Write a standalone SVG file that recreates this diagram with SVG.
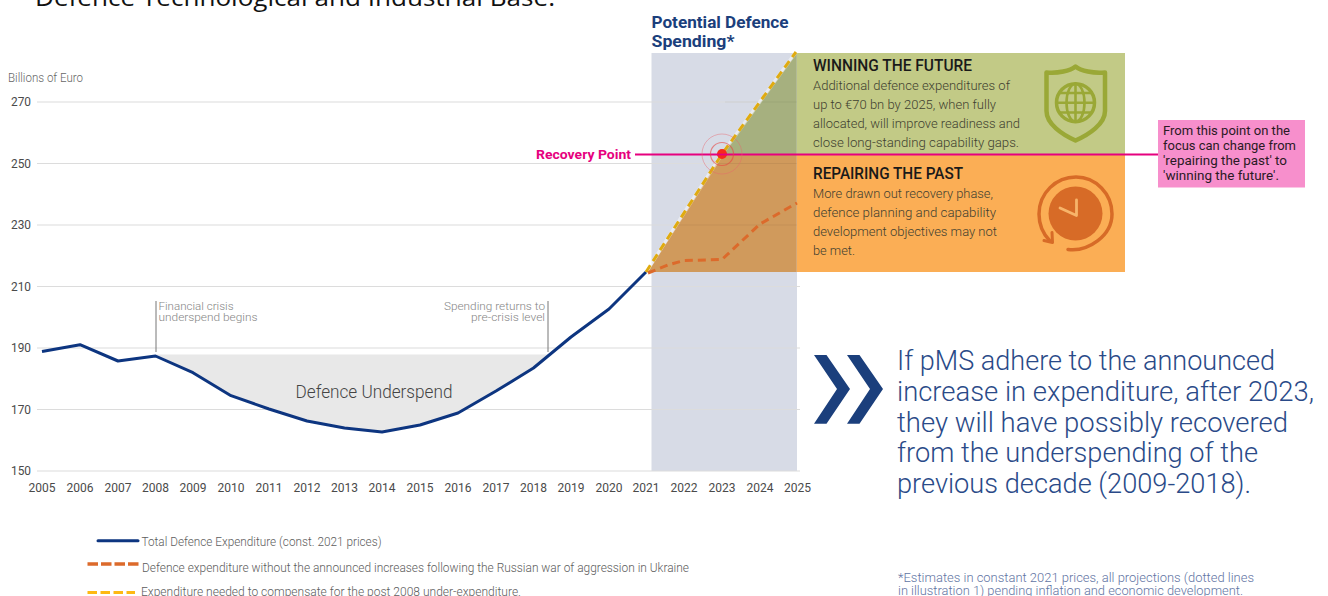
<svg xmlns="http://www.w3.org/2000/svg" width="1328" height="596" viewBox="0 0 1328 596">
<style>
text{font-family:Roboto,"Liberation Sans",sans-serif}
.grid{stroke:#dcdcdc;stroke-width:1.2;fill:none}
.tick{font-size:12px;fill:#4a4a4a}
.yr{font-size:12px;fill:#4a4a4a;text-anchor:middle}
.note{font-size:11px;fill:#858585;font-weight:300}
.leg{font-size:12px;fill:#5c5c5c;font-weight:300}
.h{font-size:16px;font-weight:500;fill:#1a1a1a}
.b{font-size:13px;fill:#3f3f30;font-weight:300}
.big{font-size:27px;fill:#2a4a88;font-weight:300}
.foot{font-size:13px;fill:#5f74a3;font-weight:300}
.pk{font-size:13px;fill:#2a1a24;font-weight:400}
.vl{stroke:#777;stroke-width:1;fill:none}
</style>
<rect width="1328" height="596" fill="#fff"/>
<text x="35" y="6" font-size="24" fill="#111" style="font-family:'Open Sans',sans-serif" textLength="520" lengthAdjust="spacingAndGlyphs">Defence Technological and Industrial Base.</text>

<g id="band"><rect x="651.500" y="53" width="145.500" height="418" fill="#d7dbe6"/></g>
<g id="grid">
<path class="grid" d="M37 102H800M37 163.500H800M37 225H800M37 286.500H800M37 348H800M37 409.500H800M37 471H800"/>
</g>
<g id="y-axis">
<text x="8" y="82" class="note" style="fill:#666;font-size:12px" textLength="75" lengthAdjust="spacingAndGlyphs">Billions of Euro</text>
<text x="11" y="106" class="tick" textLength="20" lengthAdjust="spacingAndGlyphs">270</text>
<text x="11" y="168" class="tick" textLength="20" lengthAdjust="spacingAndGlyphs">250</text>
<text x="11" y="229" class="tick" textLength="20" lengthAdjust="spacingAndGlyphs">230</text>
<text x="11" y="291" class="tick" textLength="20" lengthAdjust="spacingAndGlyphs">210</text>
<text x="11" y="352" class="tick" textLength="20" lengthAdjust="spacingAndGlyphs">190</text>
<text x="11" y="414" class="tick" textLength="20" lengthAdjust="spacingAndGlyphs">170</text>
<text x="11" y="475" class="tick" textLength="20" lengthAdjust="spacingAndGlyphs">150</text>
</g>
<g id="x-axis">
<text x="42" y="491.500" class="yr">2005</text><text x="80" y="491.500" class="yr">2006</text><text x="118" y="491.500" class="yr">2007</text><text x="155.500" y="491.500" class="yr">2008</text><text x="193" y="491.500" class="yr">2009</text><text x="231" y="491.500" class="yr">2010</text><text x="269" y="491.500" class="yr">2011</text><text x="307" y="491.500" class="yr">2012</text><text x="344.500" y="491.500" class="yr">2013</text><text x="382" y="491.500" class="yr">2014</text><text x="420" y="491.500" class="yr">2015</text><text x="458" y="491.500" class="yr">2016</text><text x="496" y="491.500" class="yr">2017</text><text x="533.500" y="491.500" class="yr">2018</text><text x="571" y="491.500" class="yr">2019</text><text x="609" y="491.500" class="yr">2020</text><text x="646" y="491.500" class="yr">2021</text><text x="684" y="491.500" class="yr">2022</text><text x="722" y="491.500" class="yr">2023</text><text x="760" y="491.500" class="yr">2024</text><text x="797.500" y="491.500" class="yr">2025</text>
</g>

<g id="underspend">
<path d="M156 354.500H548L533.500 368L496 391L458 413L420 425L382 432L344.500 428L307 421L269 409L231 395.700L193 372.700Z" fill="#e8e8e8"/>
<text x="295.500" y="398" font-size="18" fill="#444" font-weight="300" textLength="157" lengthAdjust="spacingAndGlyphs">Defence Underspend</text>
</g>

<g id="winning-the-future">
<rect x="796.700" y="53" width="328.300" height="102" fill="#c2ca86"/>
<text x="813" y="71" class="h" textLength="159" lengthAdjust="spacingAndGlyphs">WINNING THE FUTURE</text>
<text x="813" y="90" class="b" textLength="197" lengthAdjust="spacingAndGlyphs">Additional defence expenditures of</text>
<text x="813" y="109" class="b" textLength="183" lengthAdjust="spacingAndGlyphs">up to €70 bn by 2025, when fully</text>
<text x="813" y="128" class="b" textLength="207" lengthAdjust="spacingAndGlyphs">allocated, will improve readiness and</text>
<text x="813" y="147" class="b" textLength="206" lengthAdjust="spacingAndGlyphs">close long-standing capability gaps.</text>
<g id="shield-icon" fill="none" stroke="#9aa836">
<path d="M1075.500 66.500C1070 71 1058 73.500 1046.500 72.500V111C1046.500 124 1062 134.500 1075.500 140.500C1089 134.500 1105 124 1105 111V72.500C1093 73.500 1081 71 1075.500 66.500Z" stroke-width="4.500" stroke-linejoin="round"/>
<g stroke-width="2.600">
<circle cx="1075.500" cy="102.700" r="19" stroke-width="3.500"/>
<ellipse cx="1075.500" cy="102.700" rx="9" ry="19"/>
<path d="M1075.500 83.700V121.700M1056.500 102.700H1094.500M1059.500 93H1091.500M1059.500 112.500H1091.500"/>
</g>
</g>
</g>

<g id="repairing-the-past">
<rect x="796.700" y="155" width="328.300" height="117" fill="#fbae55"/>
<text x="813" y="179" class="h" textLength="150" lengthAdjust="spacingAndGlyphs">REPAIRING THE PAST</text>
<text x="813" y="198" class="b" textLength="180" lengthAdjust="spacingAndGlyphs">More drawn out recovery phase,</text>
<text x="813" y="217" class="b" textLength="183" lengthAdjust="spacingAndGlyphs">defence planning and capability</text>
<text x="813" y="236" class="b" textLength="184" lengthAdjust="spacingAndGlyphs">development objectives may not</text>
<text x="813" y="255" class="b" textLength="42" lengthAdjust="spacingAndGlyphs">be met.</text>
<g id="clock-icon">
<circle cx="1075.500" cy="213.500" r="27" fill="#d76b27"/>
<path d="M1076.500 200V215.500L1060 208" fill="none" stroke="#f7b46a" stroke-width="2.800" stroke-linecap="round" stroke-linejoin="round"/>
<path d="M1068 249.500C1088 252 1112 236 1112 214C1112 194 1096 177 1076 177C1056 177 1039 193 1039 214C1039 225 1044 235 1050 241" fill="none" stroke="#d76b27" stroke-width="3.500" stroke-linecap="round"/>
<path d="M1044 240.500L1052.500 242.500L1052 232.500" fill="none" stroke="#d76b27" stroke-width="3" stroke-linecap="round" stroke-linejoin="round"/>
</g>
</g>

<g id="projection-wedge">
<path d="M722 155L796.700 53V155Z" fill="#a6b07f"/>
<path d="M722 155H796.700V272H648Z" fill="#d09a5c"/>
</g>
<path d="M725 102H796.700M713 163.500H796.700M675 225H796.700" fill="none" stroke="#000" stroke-opacity="0.060" stroke-width="1.200"/>

<g id="connectors" fill="none">
<path class="vl" d="M156 301V352M548 301V352"/>
<polyline points="42,351.500 80,344.700 118,361 155.500,356 193,372.700 231,395.700 269,409 307,421 344.500,428 382,432 420,425 458,413 496,391 533.500,368 571,337 609,309 646,272" stroke="#0d3580" stroke-width="3" stroke-linejoin="round"/>
<polyline points="648,269 722,154 796,52" stroke="#fff" stroke-width="3.500" stroke-opacity="0.450"/>
<polyline points="646,272 722,154 796,52" stroke="#e0ab10" stroke-width="3" stroke-dasharray="8 5"/>
<polyline points="648,273 668,265 684,260.500 722,259.500 760,224 797,203" stroke="#dc6a2b" stroke-width="3" stroke-dasharray="8 5"/>
<path d="M635 154.500H1158" stroke="#e6007e" stroke-width="1.800"/>
</g>

<g id="recovery-point">
<circle cx="722" cy="154" r="20" fill="none" stroke="#e8656b" stroke-opacity="0.550" stroke-width="0.800"/>
<circle cx="722" cy="154" r="11.500" fill="none" stroke="#e8453f" stroke-opacity="0.600" stroke-width="1.200"/>
<circle cx="722" cy="154" r="5" fill="#f52b1c"/>
<path d="M717 154.500H727" stroke="#e6007e" stroke-width="1.800"/>
<text x="631" y="159" font-size="13" font-weight="700" fill="#e6007e" text-anchor="end" textLength="95" lengthAdjust="spacingAndGlyphs">Recovery Point</text>
</g>

<g id="potential-title" font-size="17" font-weight="700" fill="#1b3f7c">
<text x="651.500" y="28" textLength="137" lengthAdjust="spacingAndGlyphs">Potential Defence</text>
<text x="651.500" y="47" textLength="83" lengthAdjust="spacingAndGlyphs">Spending*</text>
</g>

<g id="crisis-notes">
<text x="158.500" y="309.500" class="note" textLength="75" lengthAdjust="spacingAndGlyphs">Financial crisis</text>
<text x="158.500" y="321" class="note" textLength="99" lengthAdjust="spacingAndGlyphs">underspend begins</text>
<text x="444" y="309.500" class="note" textLength="101" lengthAdjust="spacingAndGlyphs">Spending returns to</text>
<text x="471" y="321" class="note" textLength="74" lengthAdjust="spacingAndGlyphs">pre-crisis level</text>
</g>

<g id="pink-callout">
<rect x="1158" y="120" width="147" height="67.500" fill="#f78fcc"/>
<text x="1163" y="135" class="pk" textLength="127" lengthAdjust="spacingAndGlyphs">From this point on the</text>
<text x="1163" y="150" class="pk" textLength="133" lengthAdjust="spacingAndGlyphs">focus can change from</text>
<text x="1163" y="165" class="pk" textLength="124" lengthAdjust="spacingAndGlyphs">'repairing the past' to</text>
<text x="1163" y="180" class="pk" textLength="116" lengthAdjust="spacingAndGlyphs">'winning the future'.</text>
</g>

<g id="conclusion">
<path d="M814 355H826.500L850 389L826.500 423.700H814L837 389Z" fill="#1b3f7c"/>
<path d="M847 355H859.500L883 389L859.500 423.700H847L870 389Z" fill="#1b3f7c"/>
<text x="897" y="370" class="big" textLength="378" lengthAdjust="spacingAndGlyphs">If pMS adhere to the announced</text>
<text x="897" y="400.500" class="big" textLength="417" lengthAdjust="spacingAndGlyphs">increase in expenditure, after 2023,</text>
<text x="897" y="431.500" class="big" textLength="391" lengthAdjust="spacingAndGlyphs">they will have possibly recovered</text>
<text x="897" y="462" class="big" textLength="361" lengthAdjust="spacingAndGlyphs">from the underspending of the</text>
<text x="897" y="492.500" class="big" textLength="354" lengthAdjust="spacingAndGlyphs">previous decade (2009-2018).</text>
</g>

<g id="legend">
<path d="M98 540.700H138" stroke="#0d3580" stroke-width="3" stroke-linecap="round"/>
<text x="141.500" y="546" class="leg" textLength="240" lengthAdjust="spacingAndGlyphs">Total Defence Expenditure (const. 2021 prices)</text>
<path d="M87.500 564H140" stroke="#dc6a2b" stroke-width="3.500" stroke-dasharray="10.500 3"/>
<text x="142" y="572" class="leg" textLength="547" lengthAdjust="spacingAndGlyphs">Defence expenditure without the announced increases following the Russian war of aggression in Ukraine</text>
<path d="M87.500 592.500H135" stroke="#fdb913" stroke-width="3" stroke-dasharray="9.500 3.500"/>
<text x="141" y="596" class="leg" textLength="380" lengthAdjust="spacingAndGlyphs">Expenditure needed to compensate for the post 2008 under-expenditure.</text>
</g>

<g id="footnote">
<text x="898" y="582" class="foot" textLength="356" lengthAdjust="spacingAndGlyphs">*Estimates in constant 2021 prices, all projections (dotted lines</text>
<text x="898" y="595" class="foot" textLength="345" lengthAdjust="spacingAndGlyphs">in illustration 1) pending inflation and economic development.</text>
</g>
</svg>
